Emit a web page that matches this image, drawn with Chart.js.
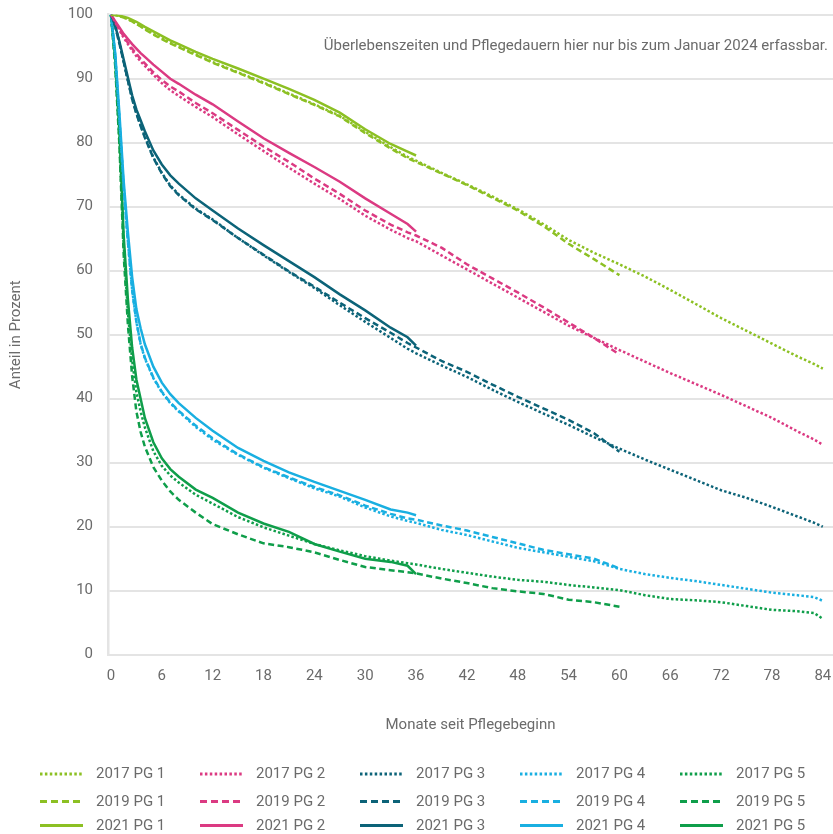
<!DOCTYPE html>
<html>
<head>
<meta charset="utf-8">
<title>Verbleib in der Pflege nach Pflegegrad</title>
<script src="https://cdn.jsdelivr.net/npm/chart.js@4/dist/chart.umd.min.js"></script>
<style>
  html, body { margin: 0; padding: 0; background: #ffffff; }
  #wrap { position: relative; width: 833px; height: 834px; }
</style>
</head>
<body>
<div id="wrap"><canvas id="c" width="833" height="834"></canvas></div>
<script>
// Months since start of care at which the curves are sampled
const MONTHS_36 = [0, 0.5, 1, 1.5, 2, 2.5, 3, 3.5, 4, 5, 6, 7, 8, 10, 12, 15, 18, 21, 24, 27, 30, 33, 35, 36];
const MONTHS_60 = MONTHS_36.concat([39, 42, 45, 48, 51, 54, 57, 60]);
const MONTHS_84 = MONTHS_60.concat([63, 66, 69, 72, 75, 78, 81, 83, 84]);

const X_TICKS = [0, 6, 12, 18, 24, 30, 36, 42, 48, 54, 60, 66, 72, 78, 84];
const Y_TICKS = [0, 10, 20, 30, 40, 50, 60, 70, 80, 90, 100];

// Share still in care (percent), cohort 2017 (observed up to 84 months)
const PG1_2017 = [100, 99.95, 99.8, 99.55, 99.3, 98.95, 98.6, 98.2, 97.8, 97.0, 96.3, 95.6, 95.0, 93.8, 92.6, 91.0, 89.4, 87.7, 86.0, 84.2, 81.7, 79.3, 77.8, 77.2,
                  75.3, 73.5, 71.6, 69.6, 67.3, 64.8, 62.8, 61.0, 59.1, 57.0, 54.8, 52.6, 50.6, 48.6, 46.6, 45.4, 44.7];
const PG2_2017 = [100, 98.8, 97.6, 96.4, 95.4, 94.4, 93.5, 92.7, 92.0, 90.6, 89.3, 88.2, 87.3, 85.6, 84.0, 81.3, 78.7, 76.1, 73.6, 71.2, 68.6, 66.4, 65.1, 64.6,
                  62.4, 60.2, 58.0, 55.8, 53.6, 51.4, 49.5, 47.6, 45.8, 44.0, 42.3, 40.6, 38.8, 37.0, 34.9, 33.6, 32.8];
const PG3_2017 = [100, 98.2, 95.5, 92.6, 89.7, 86.9, 84.6, 82.7, 80.9, 77.7, 75.3, 73.3, 71.9, 69.7, 68.0, 65.1, 62.4, 59.8, 57.3, 54.6, 52.0, 49.5, 47.8, 47.1,
                  45.2, 43.4, 41.4, 39.5, 37.7, 35.9, 34.0, 32.2, 30.5, 28.9, 27.3, 25.7, 24.5, 23.1, 21.6, 20.6, 20.0];
const PG4_2017 = [100, 93.5, 83.5, 73.0, 64.5, 57.0, 52.0, 48.5, 46.3, 43.2, 41.0, 39.3, 38.0, 35.6, 33.6, 31.2, 29.2, 27.6, 26.0, 24.7, 23.0, 21.6, 20.9, 20.6,
                  19.5, 18.7, 17.7, 16.7, 16.0, 15.3, 14.6, 13.4, 12.6, 12.0, 11.5, 10.9, 10.3, 9.7, 9.3, 9.0, 8.4];
const PG5_2017 = [100, 92.5, 80.5, 64.0, 53.5, 46.0, 41.0, 38.0, 35.5, 31.8, 29.5, 28.0, 26.9, 25.0, 23.6, 21.5, 19.9, 18.6, 17.3, 16.3, 15.4, 14.7, 14.3, 14.1,
                  13.4, 12.8, 12.2, 11.7, 11.4, 10.9, 10.5, 10.1, 9.3, 8.7, 8.5, 8.2, 7.6, 7.0, 6.8, 6.5, 5.6];

// Cohort 2019 (observed up to 60 months)
const PG1_2019 = [100, 99.95, 99.8, 99.55, 99.3, 98.95, 98.55, 98.15, 97.7, 96.9, 96.2, 95.5, 94.9, 93.7, 92.5, 90.9, 89.3, 87.6, 85.9, 84.1, 81.5, 79.1, 77.6, 77.0,
                  75.2, 73.4, 71.4, 69.4, 67.0, 64.2, 61.8, 59.3];
const PG2_2019 = [100, 98.9, 97.7, 96.6, 95.6, 94.7, 93.9, 93.1, 92.4, 91.0, 89.8, 88.8, 88.0, 86.2, 84.6, 82.0, 79.4, 77.0, 74.4, 72.0, 69.4, 67.2, 66.0, 65.5,
                  63.6, 61.0, 58.8, 56.6, 54.3, 51.9, 49.5, 46.9];
const PG3_2019 = [100, 98.2, 95.5, 92.6, 89.7, 86.8, 84.5, 82.6, 80.8, 77.6, 75.2, 73.2, 71.8, 69.6, 67.9, 65.1, 62.5, 59.9, 57.5, 55.0, 52.6, 50.3, 48.7, 48.0,
                  45.9, 44.2, 42.2, 40.3, 38.5, 36.7, 34.6, 31.7];
const PG4_2019 = [100, 93.5, 83.5, 73.0, 64.5, 57.0, 52.0, 48.6, 46.4, 43.3, 41.1, 39.4, 38.1, 35.8, 33.8, 31.3, 29.3, 27.7, 26.2, 24.9, 23.3, 22.0, 21.3, 21.1,
                  20.2, 19.4, 18.4, 17.4, 16.4, 15.7, 15.0, 13.5];
const PG5_2019 = [100, 92.0, 79.5, 62.5, 51.5, 43.5, 38.0, 34.8, 32.5, 29.3, 27.2, 25.5, 24.2, 22.2, 20.4, 18.8, 17.4, 16.8, 16.0, 14.8, 13.7, 13.2, 12.9, 12.7,
                  11.9, 11.2, 10.4, 9.9, 9.5, 8.6, 8.2, 7.5];

// Cohort 2021 (observed up to 36 months)
const PG1_2021 = [100, 99.97, 99.85, 99.7, 99.5, 99.2, 98.9, 98.5, 98.1, 97.4, 96.7, 96.0, 95.4, 94.2, 93.1, 91.6, 90.0, 88.4, 86.7, 84.7, 82.1, 79.8, 78.6, 78.0];
const PG2_2021 = [100, 99.0, 98.0, 97.0, 96.2, 95.4, 94.7, 94.0, 93.4, 92.2, 91.1, 90.0, 89.2, 87.5, 86.0, 83.3, 80.7, 78.4, 76.2, 73.9, 71.3, 68.9, 67.3, 66.1];
const PG3_2021 = [100, 98.3, 95.8, 93.0, 90.2, 87.4, 85.2, 83.5, 81.8, 78.8, 76.6, 74.9, 73.6, 71.3, 69.4, 66.6, 64.0, 61.5, 59.0, 56.3, 53.8, 51.1, 49.6, 48.3];
const PG4_2021 = [100, 94.0, 84.5, 74.0, 66.0, 59.0, 54.0, 51.0, 48.5, 45.0, 42.5, 40.7, 39.3, 37.0, 35.0, 32.3, 30.3, 28.5, 27.0, 25.6, 24.2, 22.7, 22.2, 21.8];
const PG5_2021 = [100, 93.0, 81.5, 65.5, 55.5, 48.0, 43.0, 40.0, 37.0, 33.2, 30.7, 29.0, 27.8, 25.8, 24.5, 22.2, 20.5, 19.2, 17.3, 16.1, 15.0, 14.5, 13.9, 12.6];

const NOTE = 'Überlebenszeiten und Pflegedauern hier nur bis zum Januar 2024 erfassbar.';

// Styling
const FONT = 'Roboto, "Noto Sans", "DejaVu Sans", sans-serif';
const TEXT = '#6b6b6b';
const GRID = '#e4e4e4';
const COLORS = { PG1: '#8cc023', PG2: '#db3a82', PG3: '#0c6378', PG4: '#19afe1', PG5: '#0f9e4a' };
const LINE_DASH = { 2017: [2.5, 2.2], 2019: [6, 3.5], 2021: [] };
const LEGEND_DASH = { 2017: [2.5, 2.4], 2019: [7, 4], 2021: [] };

function series(year, pg, months, values) {
  return {
    label: year + ' ' + pg.replace('PG', 'PG '),
    year: year,
    data: months.map((m, i) => ({ x: m, y: values[i] })),
    borderColor: COLORS[pg],
    backgroundColor: COLORS[pg],
    borderDash: LINE_DASH[year],
    borderWidth: 2.5,
    pointRadius: 0,
    fill: false,
    tension: 0
  };
}

const datasets = [
  series(2017, 'PG1', MONTHS_84, PG1_2017),
  series(2017, 'PG2', MONTHS_84, PG2_2017),
  series(2017, 'PG3', MONTHS_84, PG3_2017),
  series(2017, 'PG4', MONTHS_84, PG4_2017),
  series(2017, 'PG5', MONTHS_84, PG5_2017),
  series(2019, 'PG1', MONTHS_60, PG1_2019),
  series(2019, 'PG2', MONTHS_60, PG2_2019),
  series(2019, 'PG3', MONTHS_60, PG3_2019),
  series(2019, 'PG4', MONTHS_60, PG4_2019),
  series(2019, 'PG5', MONTHS_60, PG5_2019),
  series(2021, 'PG1', MONTHS_36, PG1_2021),
  series(2021, 'PG2', MONTHS_36, PG2_2021),
  series(2021, 'PG3', MONTHS_36, PG3_2021),
  series(2021, 'PG4', MONTHS_36, PG4_2021),
  series(2021, 'PG5', MONTHS_36, PG5_2021)
];

// Note text in the plot and a five-column legend below the axis
const overlay = {
  id: 'overlay',
  afterDraw(chart) {
    const ctx = chart.ctx;
    ctx.save();
    ctx.fillStyle = TEXT;
    ctx.font = '15px ' + FONT;
    ctx.textAlign = 'right';
    ctx.textBaseline = 'middle';
    ctx.fillText(NOTE, 828, 46);

    const rowY = [774, 801.5, 825.5];
    chart.data.datasets.forEach((ds, i) => {
      const col = i % 5;
      const row = Math.floor(i / 5);
      const x0 = 40 + col * 160;
      const y = rowY[row];
      ctx.strokeStyle = ds.borderColor;
      ctx.lineWidth = 3;
      ctx.setLineDash(LEGEND_DASH[ds.year]);
      ctx.beginPath();
      ctx.moveTo(x0, y);
      ctx.lineTo(x0 + 43, y);
      ctx.stroke();
      ctx.setLineDash([]);
      ctx.font = '15px ' + FONT;
      ctx.textAlign = 'left';
      ctx.fillStyle = TEXT;
      ctx.fillText(ds.label, x0 + 56, y + 0.5);
    });
    ctx.restore();
  }
};

new Chart(document.getElementById('c'), {
  type: 'line',
  data: { datasets: datasets },
  plugins: [overlay],
  options: {
    responsive: false,
    animation: false,
    devicePixelRatio: 1,
    layout: { padding: { top: 14.7, right: 0, bottom: 94, left: 0 } },
    plugins: { legend: { display: false }, tooltip: { enabled: false } },
    elements: { point: { radius: 0 }, line: { tension: 0, borderCapStyle: 'butt' } },
    scales: {
      x: {
        type: 'linear',
        min: -0.35,
        max: 85.2,
        afterBuildTicks: s => { s.ticks = X_TICKS.map(v => ({ value: v })); },
        afterFit: s => { s.height = 85.3; s.paddingLeft = 0; s.paddingRight = 0; },
        grid: { display: false, drawTicks: false },
        border: { display: true, color: GRID, width: 2 },
        ticks: { font: { family: FONT, size: 15 }, color: TEXT, padding: 13, maxRotation: 0, autoSkip: false },
        title: { display: true, text: 'Monate seit Pflegebeginn', font: { family: FONT, size: 15 }, color: TEXT, padding: { top: 0, bottom: 6 } }
      },
      y: {
        type: 'linear',
        min: 0,
        max: 100,
        afterBuildTicks: s => { s.ticks = Y_TICKS.map(v => ({ value: v })); },
        afterFit: s => { s.width = 108; s.paddingTop = 0; s.paddingBottom = 0; },
        grid: { color: GRID, lineWidth: 2, drawTicks: false },
        border: { display: true, color: GRID, width: 2.5 },
        ticks: { font: { family: FONT, size: 15 }, color: TEXT, padding: 15 },
        title: { display: true, text: 'Anteil in Prozent', font: { family: FONT, size: 15 }, color: TEXT, padding: { top: 7, bottom: 0 } }
      }
    }
  }
});
</script>
</body>
</html>
